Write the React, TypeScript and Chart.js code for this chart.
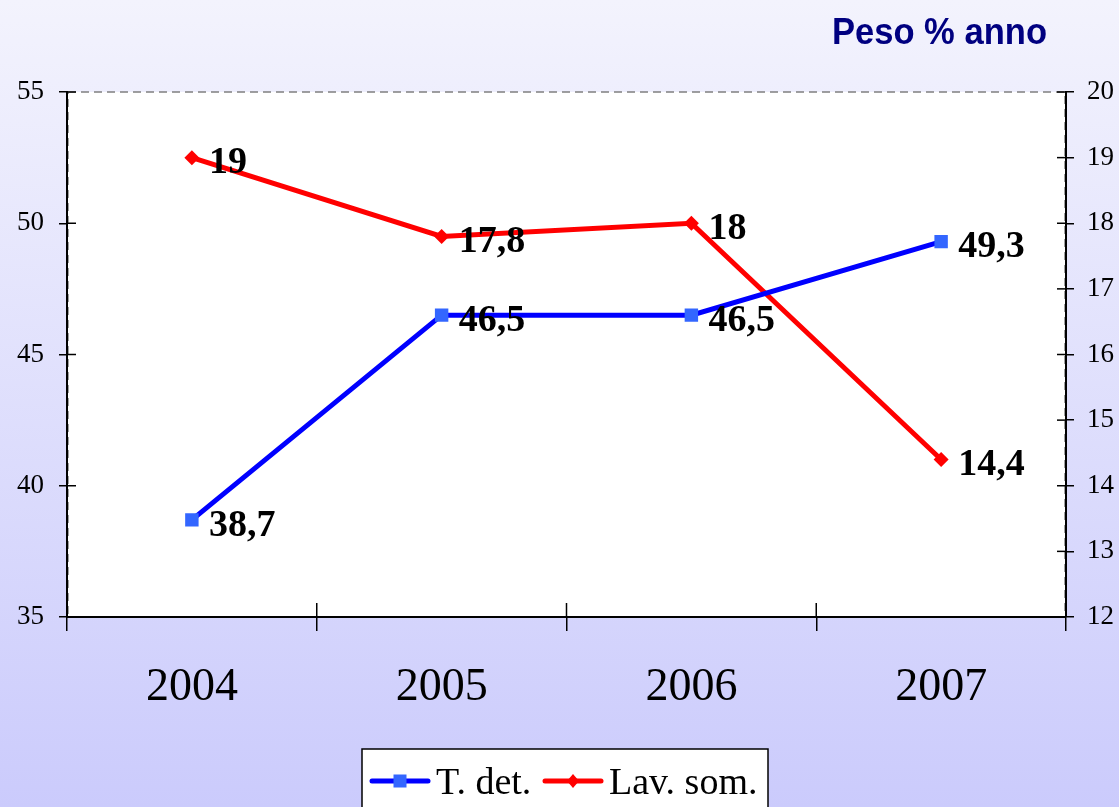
import React, { useEffect, useRef } from "react";
import { Chart, registerables } from "chart.js";

Chart.register(...registerables);

const years = ["2004", "2005", "2006", "2007"];
const tDet = [38.7, 46.5, 46.5, 49.3];
const lavSom = [19, 17.8, 18, 14.4];
const seriesNames = ["T. det.", "Lav. som."];
const titleText = "Peso % anno";

const SERIF = "'Liberation Serif', 'Times New Roman', serif";
const SANS = "'Liberation Sans', Arial, sans-serif";

const bgPlugin = {
  id: "bg",
  beforeDraw(chart: any) {
    const { ctx, width, height, chartArea } = chart;
    ctx.save();
    const g = ctx.createLinearGradient(0, 0, 0, height);
    g.addColorStop(0, "#f3f3fd");
    g.addColorStop(1, "#cbcbfc");
    ctx.fillStyle = g;
    ctx.fillRect(0, 0, width, height);
    ctx.fillStyle = "#ffffff";
    ctx.fillRect(chartArea.left, chartArea.top, chartArea.right - chartArea.left, chartArea.bottom - chartArea.top);
    ctx.strokeStyle = "#808080";
    ctx.lineWidth = 1.5;
    ctx.setLineDash([8, 5]);
    ctx.strokeRect(chartArea.left + 1, chartArea.top, chartArea.right - chartArea.left - 2, chartArea.bottom - chartArea.top);
    ctx.setLineDash([]);
    // title
    ctx.fillStyle = "#000080";
    ctx.font = `bold 36px ${SANS}`;
    ctx.textAlign = "right";
    ctx.textBaseline = "middle";
    ctx.save();
    ctx.translate(1047, 34);
    ctx.scale(0.96, 1.05);
    ctx.fillText(titleText, 0, 0);
    ctx.restore();
    ctx.restore();
  },
};

const innerTicksPlugin = {
  id: "innerTicks",
  afterDraw(chart: any) {
    const { ctx, chartArea } = chart;
    ctx.save();
    ctx.strokeStyle = "#000";
    ctx.lineWidth = 1.5;
    const x = chart.scales.x;
    const n = x.ticks.length;
    const step = x.getPixelForValue(1) - x.getPixelForValue(0);
    for (let i = 0; i <= n; i++) {
      const px = x.getPixelForValue(0) - step / 2 + i * step;
      ctx.beginPath();
      ctx.moveTo(px, chartArea.bottom);
      ctx.lineTo(px, chartArea.bottom - 14);
      ctx.stroke();
    }
    const y = chart.scales.y;
    y.ticks.forEach((t: any) => {
      const py = y.getPixelForValue(t.value);
      ctx.beginPath();
      ctx.moveTo(chartArea.left, py);
      ctx.lineTo(chartArea.left + 9, py);
      ctx.stroke();
    });
    const y1 = chart.scales.y1;
    y1.ticks.forEach((t: any) => {
      const py = y1.getPixelForValue(t.value);
      ctx.beginPath();
      ctx.moveTo(chartArea.right, py);
      ctx.lineTo(chartArea.right - 9, py);
      ctx.stroke();
    });
    ctx.restore();
  },
};

const labelsPlugin = {
  id: "dataLabels",
  afterDatasetsDraw(chart: any) {
    const { ctx } = chart;
    ctx.save();
    ctx.fillStyle = "#000";
    ctx.font = `bold 38px ${SERIF}`;
    ctx.textAlign = "left";
    ctx.textBaseline = "middle";
    chart.data.datasets.forEach((ds: any, di: number) => {
      const meta = chart.getDatasetMeta(di);
      meta.data.forEach((pt: any, i: number) => {
        const txt = String(ds.data[i]).replace(".", ",");
        ctx.fillText(txt, pt.x + 17, pt.y + 6);
      });
    });
    ctx.restore();
  },
};

const legendPlugin = {
  id: "customLegend",
  afterDraw(chart: any) {
    const { ctx } = chart;
    ctx.save();
    const bx = 362, by = 749, bw = 406, bh = 70;
    ctx.fillStyle = "#fff";
    ctx.fillRect(bx, by, bw, bh);
    ctx.strokeStyle = "#000";
    ctx.lineWidth = 1.5;
    ctx.strokeRect(bx, by, bw, bh);
    const cy = 781;
    const starts = [372, 545];
    ctx.font = `38px ${SERIF}`;
    ctx.textBaseline = "middle";
    ctx.textAlign = "left";
    chart.data.datasets.forEach((ds: any, di: number) => {
      const sx = starts[di];
      ctx.strokeStyle = ds.borderColor;
      ctx.lineWidth = 5;
      ctx.lineCap = "round";
      ctx.beginPath();
      ctx.moveTo(sx, cy);
      ctx.lineTo(sx + 56, cy);
      ctx.stroke();
      ctx.fillStyle = ds.pointBackgroundColor;
      const mx = sx + 28;
      if (ds.pointStyle === "rect") {
        ctx.fillRect(mx - 6.5, cy - 6.5, 13, 13);
      } else {
        ctx.beginPath();
        ctx.moveTo(mx, cy - 7);
        ctx.lineTo(mx + 6, cy);
        ctx.lineTo(mx, cy + 7);
        ctx.lineTo(mx - 6, cy);
        ctx.closePath();
        ctx.fill();
      }
      ctx.fillStyle = "#000";
      ctx.fillText(ds.label, sx + 64, cy + 3);
    });
    ctx.restore();
  },
};

export default function App() {
  const ref = useRef<HTMLCanvasElement | null>(null);
  useEffect(() => {
    if (!ref.current) return;
    const chart = new Chart(ref.current, {
      type: "line",
      data: {
        labels: years,
        datasets: [
          {
            label: seriesNames[0],
            data: tDet,
            yAxisID: "y",
            borderColor: "#0000ff",
            borderWidth: 5,
            pointStyle: "rect",
            pointRadius: 9.5,
            pointBackgroundColor: "#3366ff",
            pointBorderColor: "#3366ff",
            pointBorderWidth: 0,
            tension: 0,
          } as any,
          {
            label: seriesNames[1],
            data: lavSom,
            yAxisID: "y1",
            borderColor: "#ff0000",
            borderWidth: 5,
            pointStyle: "rectRot",
            pointRadius: 7.5,
            pointBackgroundColor: "#ff0000",
            pointBorderColor: "#ff0000",
            pointBorderWidth: 0,
            tension: 0,
          } as any,
        ],
      },
      options: {
        animation: false,
        responsive: false,
        maintainAspectRatio: false,
        layout: { padding: { top: 92, left: 0, right: 0, bottom: 0 } },
        plugins: { legend: { display: false }, title: { display: false }, tooltip: { enabled: false } },
        scales: {
          x: {
            type: "category",
            offset: true,
            grid: { offset: true, drawOnChartArea: false, tickLength: 14, color: "#000", lineWidth: 1.5 },
            border: { color: "#000", width: 2 },
            ticks: { font: { family: SERIF, size: 46 }, color: "#000", padding: 29, maxRotation: 0 },
            afterFit: (s: any) => { s.height = 190; },
          },
          y: {
            position: "left",
            min: 35,
            max: 55,
            ticks: { stepSize: 5, font: { family: SERIF, size: 27 }, color: "#000", padding: 15 },
            grid: { drawOnChartArea: false, tickLength: 8, color: "#000", lineWidth: 1.5 },
            border: { color: "#000", width: 2 },
            afterFit: (s: any) => { s.width = 67; },
          },
          y1: {
            position: "right",
            min: 12,
            max: 20,
            ticks: { stepSize: 1, font: { family: SERIF, size: 27 }, color: "#000", padding: 13 },
            grid: { drawOnChartArea: false, tickLength: 8, color: "#000", lineWidth: 1.5 },
            border: { color: "#000", width: 2 },
            afterFit: (s: any) => { s.width = 53; },
          },
        },
      },
      plugins: [bgPlugin, innerTicksPlugin, labelsPlugin, legendPlugin],
    });
    return () => chart.destroy();
  }, []);
  return (
    <div style={{ position: "fixed", left: 0, top: 0, width: 1119, height: 807 }}>
      <canvas ref={ref} width={1119} height={807} style={{ display: "block", width: 1119, height: 807 }} />
    </div>
  );
}
